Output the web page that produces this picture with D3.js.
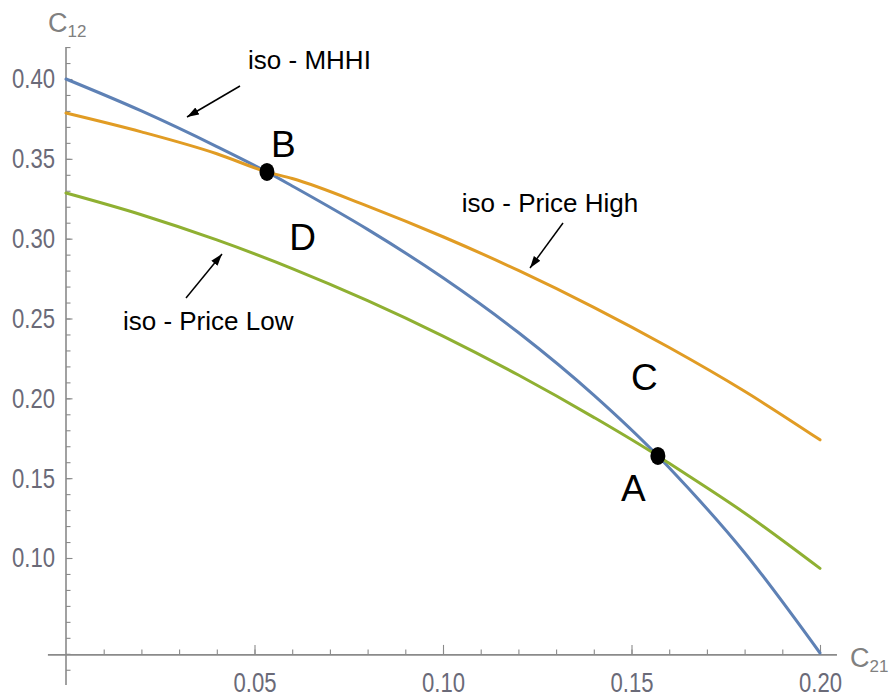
<!DOCTYPE html>
<html>
<head>
<meta charset="utf-8">
<script src="https://cdn.jsdelivr.net/npm/d3@7"></script>
<style>
  html, body { margin: 0; padding: 0; background: #ffffff; }
  svg { display: block; }
</style>
</head>
<body>
<svg id="chart" width="893" height="698"></svg>
<script>
// ---------- data ----------
const mhhiX  = [0, 0.02, 0.04, 0.0533, 0.06, 0.08, 0.10, 0.12, 0.14, 0.157, 0.16, 0.18, 0.20];
const mhhiY  = [0.400, 0.380, 0.3577, 0.3418, 0.3330, 0.3058, 0.2755, 0.2412, 0.2020, 0.1639, 0.1565, 0.1033, 0.0405];

const highX  = [0, 0.02, 0.04, 0.0533, 0.06, 0.08, 0.10, 0.12, 0.14, 0.16, 0.18, 0.20];
const highY  = [0.3787, 0.3669, 0.3532, 0.3418, 0.3377, 0.3204, 0.3012, 0.2801, 0.2570, 0.2318, 0.2044, 0.1740];

const lowX   = [0, 0.02, 0.04, 0.06, 0.08, 0.10, 0.12, 0.14, 0.157, 0.16, 0.18, 0.20];
const lowY   = [0.3286, 0.3150, 0.2992, 0.2813, 0.2612, 0.2390, 0.2146, 0.1881, 0.1639, 0.1593, 0.1282, 0.0935];

const pointNames = ["A", "B"];
const pointX = [0.157, 0.0533];
const pointY = [0.1639, 0.3418];

const xTickValues = [0.05, 0.10, 0.15, 0.20];
const xTickLabels = ["0.05", "0.10", "0.15", "0.20"];
const yTickValues = [0.10, 0.15, 0.20, 0.25, 0.30, 0.35, 0.40];
const yTickLabels = ["0.10", "0.15", "0.20", "0.25", "0.30", "0.35", "0.40"];

const regionLetters = ["A", "B", "C", "D"];
const regionLetterX = [0.1472, 0.0544, 0.1499, 0.0592];
const regionLetterY = [0.1357, 0.3511, 0.2052, 0.2929];

const curveNames = ["iso - MHHI", "iso - Price High", "iso - Price Low"];
const curveNameX = [0.0483, 0.1050, 0.0151];
const curveNameY = [0.4060, 0.3167, 0.2428];
const arrowFromX = [0.04615, 0.13183, 0.03183];
const arrowFromY = [0.39562, 0.30981, 0.26284];
const arrowToX   = [0.03210, 0.12308, 0.04138];
const arrowToY   = [0.37620, 0.28163, 0.29040];

const xAxisTitle = ["C", "21"];
const yAxisTitle = ["C", "12"];

// ---------- layout ----------
const svg = d3.select("#chart");
const x = d3.scaleLinear().domain([0, 0.20]).range([66, 820]);
const y = d3.scaleLinear().domain([0.10, 0.40]).range([558, 79]);
const axisCrossY = 0.0393;   // where the horizontal axis sits
const axisCrossX = 0;
const axisColor = "#8a8a8a";
const labelColor = "#6a6a78";
const tickFont = "'Liberation Sans Narrow', 'Arial Narrow', 'Liberation Sans', Arial, sans-serif";
const textFont = "'Liberation Sans', Arial, Helvetica, sans-serif";

svg.append("rect").attr("width", 893).attr("height", 698).attr("fill", "#fff");

// ---------- axes ----------
const gx = svg.append("g").attr("transform", `translate(0,${y(axisCrossY)})`);
const gy = svg.append("g").attr("transform", `translate(${x(axisCrossX)},0)`);

// minor ticks
gx.call(d3.axisBottom(x).tickValues(d3.range(1, 21).map(d => d / 100))
  .tickSizeInner(-5.5).tickSizeOuter(0).tickFormat(""));
gy.call(d3.axisLeft(y).tickValues(d3.range(3, 43).map(d => d / 100))
  .tickSizeInner(-4.5).tickSizeOuter(0).tickFormat(""));
svg.selectAll(".domain").remove();

// major ticks with labels
svg.append("g").attr("transform", `translate(0,${y(axisCrossY)})`)
  .call(d3.axisBottom(x).tickValues(xTickValues).tickSizeInner(-10).tickSizeOuter(0)
    .tickPadding(17).tickFormat((d, i) => xTickLabels[i]));
svg.append("g").attr("transform", `translate(${x(axisCrossX)},0)`)
  .call(d3.axisLeft(y).tickValues(yTickValues).tickSizeInner(-6.5).tickSizeOuter(0)
    .tickPadding(11).tickFormat((d, i) => yTickLabels[i]));
svg.selectAll(".domain").remove();

svg.selectAll(".tick line").attr("stroke", axisColor).attr("stroke-width", 1.1);
svg.selectAll(".tick text")
  .attr("fill", labelColor)
  .attr("font-family", tickFont)
  .attr("font-size", 28)
  .attr("textLength", 43)
  .attr("lengthAdjust", "spacingAndGlyphs");

// axis lines
svg.append("line")
  .attr("x1", x(-0.0048)).attr("x2", x(0.2045))
  .attr("y1", y(axisCrossY)).attr("y2", y(axisCrossY))
  .attr("stroke", axisColor).attr("stroke-width", 1.6);
svg.append("line")
  .attr("x1", x(axisCrossX)).attr("x2", x(axisCrossX))
  .attr("y1", y(0.42)).attr("y2", y(0.0205))
  .attr("stroke", axisColor).attr("stroke-width", 1.6);

// axis titles
function subTitle(px, py, parts) {
  const t = svg.append("text").attr("x", px).attr("y", py)
    .attr("font-family", textFont).attr("fill", "#808080").attr("font-size", 27);
  t.append("tspan").text(parts[0]);
  t.append("tspan").attr("dy", 5).attr("font-size", 17).text(parts[1]);
}
subTitle(48, 32, yAxisTitle);
subTitle(850, 667, xAxisTitle);

// ---------- curves ----------
const line = d3.line().x(d => x(d[0])).y(d => y(d[1])).curve(d3.curveMonotoneX);
const series = [
  { xs: mhhiX, ys: mhhiY, color: "#5e81b5" },
  { xs: highX, ys: highY, color: "#e19c24" },
  { xs: lowX,  ys: lowY,  color: "#8fb032" }
];
series.forEach(s => {
  svg.append("path")
    .datum(s.xs.map((v, i) => [v, s.ys[i]]))
    .attr("d", line)
    .attr("fill", "none")
    .attr("stroke", s.color)
    .attr("stroke-width", 3)
    .attr("stroke-linecap", "round");
});

// ---------- points ----------
svg.selectAll(".pt").data(pointNames).enter().append("ellipse")
  .attr("class", "pt")
  .attr("cx", (d, i) => x(pointX[i]))
  .attr("cy", (d, i) => y(pointY[i]))
  .attr("rx", 7.5).attr("ry", 9)
  .attr("fill", "#000");

// ---------- annotations ----------
svg.append("defs").append("marker")
  .attr("id", "arrowhead")
  .attr("viewBox", "0 0 12 8")
  .attr("refX", 12).attr("refY", 4)
  .attr("markerWidth", 12).attr("markerHeight", 8)
  .attr("markerUnits", "userSpaceOnUse")
  .attr("orient", "auto")
  .append("path").attr("d", "M0,0 L12,4 L0,8 Z").attr("fill", "#000");

curveNames.forEach((name, i) => {
  svg.append("line")
    .attr("x1", x(arrowFromX[i])).attr("y1", y(arrowFromY[i]))
    .attr("x2", x(arrowToX[i])).attr("y2", y(arrowToY[i]))
    .attr("stroke", "#000").attr("stroke-width", 1.5)
    .attr("marker-end", "url(#arrowhead)");
  svg.append("text")
    .attr("x", x(curveNameX[i])).attr("y", y(curveNameY[i]))
    .attr("font-family", textFont).attr("font-size", 26).attr("fill", "#000")
    .text(name);
});

regionLetters.forEach((L, i) => {
  svg.append("text")
    .attr("x", x(regionLetterX[i])).attr("y", y(regionLetterY[i]))
    .attr("font-family", textFont).attr("font-size", 37).attr("fill", "#000")
    .text(L);
});
</script>
</body>
</html>
